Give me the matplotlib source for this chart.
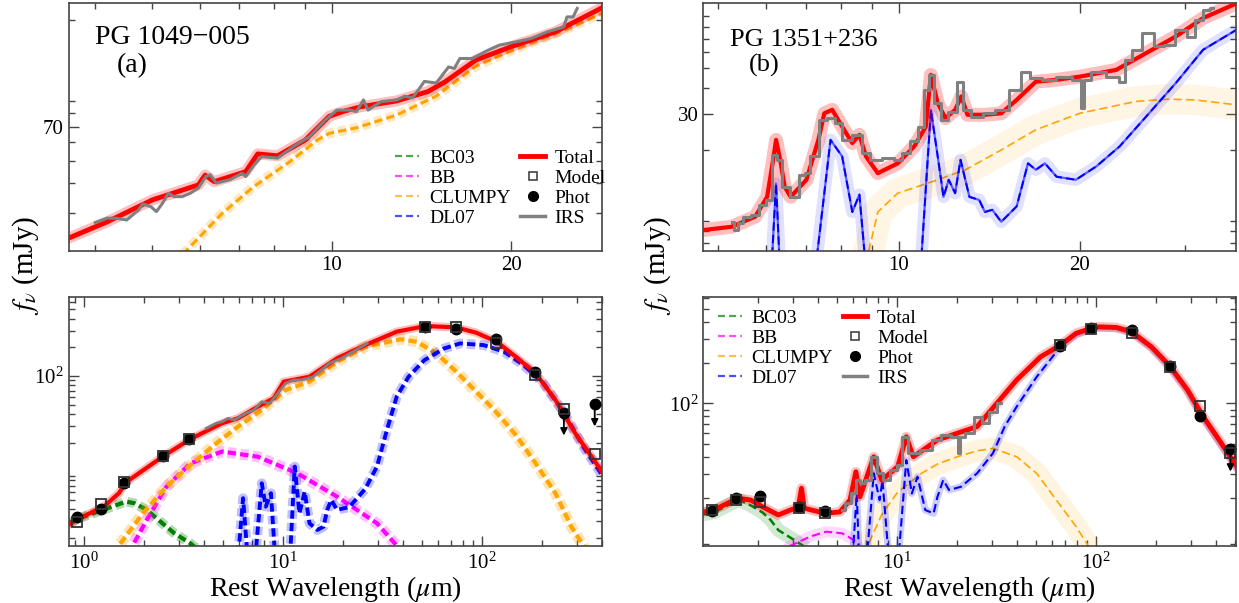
import numpy as np
import matplotlib
matplotlib.use('Agg')
import matplotlib.pyplot as plt
from matplotlib.ticker import (FixedLocator, LogLocator, NullFormatter,
                               StrMethodFormatter, LogFormatterMathtext)
from matplotlib.lines import Line2D

plt.rcParams['font.family'] = 'serif'
plt.rcParams['font.serif'] = ['Liberation Serif', 'DejaVu Serif']
plt.rcParams['mathtext.fontset'] = 'stix'
plt.rcParams['lines.scale_dashes'] = False

# ---------------- PG 1049-005 : IRS zoom ----------------
tl_total_wl = [3.6, 4.2, 5.0, 5.97, 6.13, 6.35, 7.17, 7.51, 8.11, 9.03, 9.9, 10.5,
               11.2, 12.85, 14.5, 15.5, 17.45, 20.0, 23.7, 28.5]
tl_total_f = [23.2, 27.4, 34.0, 39.4, 43.4, 40.7, 44.9, 53.5, 52.5, 61.4, 77.5, 81.6,
              85.2, 90.2, 98.9, 109, 135, 154, 178, 227]
tl_clumpy_wl = [5.4, 5.70, 6.55, 7.40, 8.49, 9.46, 9.9, 11.0, 12.85, 14.97, 17.45,
                20.0, 23.7, 28.5]
tl_clumpy_f = [18.5, 20.6, 29.8, 38.8, 49.4, 61.4, 65.5, 69.2, 78.5, 94.6, 127,
               148, 175, 214]
tl_irs_wl = [4.01, 4.20, 4.33, 4.53, 4.74, 4.82, 4.97, 5.08, 5.20, 5.32, 5.44, 5.61,
             5.79, 5.97, 6.15, 6.25, 6.40, 6.75, 7.07, 7.17, 7.40, 7.63, 8.11, 8.62,
             9.17, 9.75, 10.2, 10.7, 11.0, 11.3, 11.5, 12.1, 12.85, 13.25, 13.66, 14.3,
             14.97, 15.7, 16.05, 16.4, 17.2, 18.3, 19.1, 20.4, 21.6, 23.0, 24.5, 24.8,
             25.4, 25.8]
tl_irs_f = [27.2, 28.4, 28.4, 27.9, 30.8, 32.7, 31.8, 30.3, 32.9, 36.3, 35.1, 35.1,
            36.3, 38.2, 42.8, 43.6, 40.1, 41.5, 44.2, 42.8, 47.9, 52.1, 51.3, 57.5,
            63.4, 74.8, 82.4, 82.4, 81.2, 91.1, 82.4, 89.6, 91.1, 94.5, 92.9, 109.3,
            107.6, 126.0, 124.2, 137.0, 137.0, 148.8, 156.3, 161.5, 167.0, 178.2, 187.1,
            206.4, 206.4, 224.4]

# ---------------- PG 1351+236 : IRS zoom ----------------
tr_total_wl = [4.73, 5.26, 5.76, 6.03, 6.17, 6.24, 6.34, 6.45, 6.60, 7.01, 7.34, 7.51,
               7.74, 8.04, 8.36, 8.59, 8.81, 9.22, 9.95, 10.6, 11.08, 11.3, 11.6, 11.95,
               12.4, 12.7, 13.0, 13.9, 14.8, 15.7, 16.9, 18.3, 20.0, 23.0, 25.5, 28.9,
               32.1, 36.5]
tr_total_f = [8.13, 8.43, 9.44, 11.8, 17.9, 22.4, 17.9, 13.2, 11.8, 14.3, 22.4, 30.2,
              31.4, 26.0, 21.6, 23.7, 18.6, 15.4, 17.2, 20.8, 26.0, 46.5, 33.8, 28.6,
              31.4, 36.5, 29.7, 29.7, 30.2, 35.1, 43.1, 44.0, 45.6, 49.2, 58.3, 71.6,
              88.1, 104]
tr_dl07_wl = [6.10, 6.24, 6.36, 7.18, 7.69, 8.04, 8.36, 8.59, 8.88, 10.8, 11.3, 11.6,
              11.86, 12.1, 12.4, 12.66, 13.1, 13.6, 13.9, 14.3, 14.8, 15.7, 16.4, 16.9,
              17.5, 18.3, 19.7, 21.3, 23.3, 25.5, 28.9, 32.1, 36.5]
tr_dl07_f = [4.0, 13.7, 4.0, 4.0, 22.4, 18.6, 9.96, 12.1, 4.0, 4.0, 31.4, 18.6,
             11.8, 14.3, 12.3, 17.9, 11.8, 11.4, 9.96, 10.2, 8.92, 10.6, 17.2, 16.0,
             17.2, 14.8, 14.3, 16.6, 20.8, 28.0, 42.4, 61.7, 77.3]
tr_clumpy_wl = [8.5, 8.88, 9.22, 9.95, 10.7, 11.6, 12.9, 14.8, 16.9, 20.0, 24.8,
                28.0, 31.1, 36.5]
tr_clumpy_f = [5.0, 6.2, 9.96, 12.3, 13.2, 14.3, 16.0, 20.0, 25.1, 30.2, 34.5,
               35.4, 35.1, 33.2]
tr_irs_wl = [5.26, 5.38, 5.42, 5.59, 5.76, 5.94, 6.07, 6.21, 6.31, 6.45, 6.70, 6.91,
             7.01, 7.23, 7.46, 7.69, 7.93, 8.17, 8.55, 8.81, 9.09, 9.65, 9.95, 10.26,
             10.6, 10.9, 11.15, 11.3, 11.6, 11.86, 12.3, 12.7, 12.9, 13.5, 14.1, 14.8,
             15.7, 16.2, 16.9, 17.7, 18.8, 20.0, 20.2, 20.5, 21.3, 23.0, 23.5, 24.0,
             24.8, 25.9, 27.2, 28.0, 29.7, 30.7, 31.6, 32.6, 33.3]
tr_irs_f = [8.92, 8.13, 8.76, 9.44, 9.62, 10.8, 11.4, 18.9, 17.9, 13.2, 11.8, 15.1,
            15.4, 18.6, 28.0, 28.6, 27.0, 22.4, 23.7, 19.3, 17.9, 18.2, 17.9, 19.3,
            22.0, 26.0, 39.3, 46.5, 33.8, 28.0, 30.8, 43.1, 31.4, 29.1, 30.2, 31.4,
            39.3, 48.3, 44.8, 44.0, 45.6, 44.0, 32.0, 44.0, 48.3, 45.6, 43.1, 55.1,
            61.7, 74.4, 64.0, 65.2, 77.3, 71.6, 86.5, 96.8, 98.6]

# ---------------- PG 1049-005 : full SED ----------------
bl_phot_wl = [0.92, 1.22, 1.60, 2.51, 3.39, 51.6, 73.7, 117.9, 184.2, 257.9, 368.5]
bl_phot_f = [3.29, 3.99, 7.48, 14.5, 22.0, 329, 309, 243, 111, 40.6, 50.5]
bl_phot_uplim = [False, False, False, False, False, False, False, False, False, True, True]
bl_model_f = [2.96, 4.5, 7.66, 14.5, 22.0, 329, 324, 224, 102, 44.7, 15.2]
bl_total_wl = [0.841, 0.935, 1.26, 1.50, 1.63, 1.89, 2.52, 3.46, 4.95, 5.95, 7.48, 9.0,
               10.1, 13.6, 18.7, 25.9, 37.3, 52.2, 74.3, 93.5, 118.7, 148, 186, 234,
               294, 406]
bl_total_f = [2.73, 3.16, 4.25, 5.88, 7.66, 9.53, 14.5, 22.0, 31.9, 36.0, 47.6, 58.4,
              87.1, 98.3, 153, 211, 292, 335, 324, 285, 229, 159, 107, 56, 25.1, 9.53]
bl_irs_wl = [4.12, 4.62, 4.95, 5.30, 5.68, 6.52, 7.15, 7.83, 8.59, 9.41, 10.3, 11.3,
             12.4, 14.2, 15.6, 17.1, 19.6, 22.5, 26.5]
bl_irs_f = [28.2, 31.9, 33.2, 36.0, 34.5, 40.6, 44.0, 53.7, 51.7, 65.8, 83.7, 90.8,
            90.8, 98.3, 115.6, 135.8, 153, 180, 220]
bl_bc03_wl = [0.84, 0.948, 1.25, 1.63, 1.80, 2.07, 2.37, 2.85, 3.43, 3.9]
bl_bc03_f = [2.84, 3.21, 3.93, 4.80, 4.61, 3.93, 3.08, 2.23, 1.75, 1.4]
bl_bb_wl = [1.65, 1.76, 2.07, 2.60, 3.43, 4.95, 7.48, 11.8, 18.7, 29.7, 37.3, 42]
bl_bb_f = [1.0, 1.66, 3.08, 6.89, 12.1, 16.1, 14.2, 9.53, 5.41, 2.84, 1.66, 1.2]
bl_clumpy_wl = [1.35, 1.50, 1.98, 2.60, 3.43, 4.52, 5.95, 7.83, 10.3, 13.6, 18.7, 25.9,
                39.1, 47.0, 59.1, 74.3, 93.5, 117.5, 148, 186, 234, 281, 323, 360]
bl_clumpy_f = [1.0, 1.66, 3.62, 6.89, 11.6, 18.9, 29.4, 44.0, 71.3, 87.1, 141, 203,
               243, 229, 173, 111, 68.5, 42.2, 24.0, 12.1, 5.88, 2.62, 1.66, 1.0]
bl_dl07_wl = [5.9, 6.31, 6.7, 7.2, 7.83, 8.20, 8.71, 9.2, 10.8, 11.47, 12.1, 12.87,
              13.6, 14.9, 16.0, 16.7, 17.5, 18.7, 21.5, 25.9, 29.7, 33.3, 37.3, 42.8,
              51.4, 64.7, 77.8, 102, 129, 162, 204, 259, 323, 406]
bl_dl07_f = [1.0, 5.21, 1.0, 1.0, 7.48, 4.25, 5.88, 1.0, 1.0, 11.2, 3.62, 6.11,
             2.84, 2.42, 2.62, 3.93, 5.0, 3.93, 4.2, 6.5, 11.2, 27.1, 60.7, 98.3,
             147, 195, 220, 211, 180, 130, 83.7, 40.6, 18.1, 8.77]

# ---------------- PG 1351+236 : full SED ----------------
br_phot_wl = [1.18, 1.56, 2.06, 3.22, 4.36, 66.4, 94.8, 151.7, 237, 332, 474]
br_phot_f = [15.9, 19.8, 20.7, 17.1, 15.9, 267, 359, 349, 189, 80.5, 45.6]
br_phot_uplim = [False, False, False, False, False, False, False, False, False, False, True]
br_model_f = [16.2, 19.2, 18.7, 16.9, 15.3, 270, 353, 333, 187, 95.5, 42.6]
br_total_wl = [1.063, 1.18, 1.59, 1.85, 2.12, 2.54, 2.92, 3.20, 3.32, 3.43, 4.38, 5.18,
               5.82, 6.23, 6.53, 7.66, 8.40, 10.1, 11.16, 12.1, 16.0, 20.1, 25.3, 31.8,
               40.0, 52.7, 66.3, 79.6, 100, 126, 151, 190, 235, 288, 346, 416, 511]
br_total_f = [15.7, 16.0, 19.8, 19.2, 17.1, 14.9, 16.2, 17.0, 23.5, 16.7, 15.3, 15.7,
              19.2, 31.1, 20.3, 40.2, 27.0, 33.9, 56.6, 40.2, 53.5, 60.0, 67.2, 100,
              149, 221, 270, 330, 369, 365, 339, 262, 189, 126, 79.6, 53.5, 33.9]
br_irs_wl = [5.30, 5.69, 6.09, 6.37, 6.67, 7.15, 7.66, 8.20, 8.79, 9.64, 10.3, 11.06,
             11.6, 12.4, 13.9, 16.0, 17.5, 20.1, 20.6, 21.0, 23.1, 25.9, 27.7, 30.4, 33.3]
br_irs_f = [16.2, 18.2, 21.5, 27.0, 25.5, 27.0, 40.2, 30.3, 27.0, 32.1, 34.9, 56.6,
            42.7, 42.7, 45.1, 53.5, 58.2, 56.6, 42.7, 56.6, 60.0, 79.6, 71.1, 86.7, 100]
br_bc03_wl = [1.063, 1.22, 1.61, 1.85, 2.12, 2.32, 2.54, 3.06, 3.51]
br_bc03_f = [15.0, 15.7, 19.3, 17.5, 15.5, 13.7, 11.5, 9.7, 8.5]
br_bb_wl = [2.6, 2.92, 3.67, 4.41, 5.30, 6.09, 6.6]
br_bb_f = [7.5, 8.8, 10.3, 11.2, 10.9, 9.7, 8.0]
br_clumpy_wl = [7.0, 7.31, 8.4, 10.1, 13.3, 16.0, 20.1, 25.3, 30.4, 40.0, 50.4, 63.3,
                79.6, 91.4, 100]
br_clumpy_f = [7.5, 9.5, 15.0, 22.0, 30.3, 35.5, 40.2, 44.5, 46.4, 40.2, 30.3, 19.2,
               12.2, 8.8, 7.0]
br_dl07_wl = [5.95, 6.29, 6.5, 7.0, 7.66, 8.20, 8.47, 9.2, 10.1, 11.16, 11.9, 12.7,
              13.9, 15.3, 16.0, 17.1, 18.3, 21.0, 25.3, 30.4, 34.8, 40.0, 50.4, 66.3,
              79.6, 100, 126, 151, 190, 235, 288, 346, 416, 511]
br_dl07_f = [6.0, 21.5, 6.0, 6.0, 30.3, 19.2, 27.0, 6.0, 6.0, 38.0, 21.5, 28.6,
             16.2, 15.3, 20.3, 27.0, 22.8, 24.1, 30.3, 42.7, 67.2, 94.4, 157, 262,
             325, 362, 360, 335, 258, 186, 124, 78, 52, 33]

DASH = (6, 3)


def component(ax, wl, f, color, lw, spread, alpha, dashed_spread=True):
    # faint copy underneath stands for the spread of the fitted realisations
    if dashed_spread:
        ax.plot(wl, f, color=color, lw=spread, alpha=alpha, dashes=DASH, zorder=2)
    else:
        ax.plot(wl, f, color=color, lw=spread, alpha=alpha, solid_capstyle='butt', zorder=2)
    ax.plot(wl, f, color=color, lw=lw, dashes=DASH, zorder=2)


def total(ax, wl, f, lw, spread):
    ax.plot(wl, f, color='red', lw=spread, alpha=0.25, zorder=3)
    ax.plot(wl, f, color='red', lw=lw, zorder=3)


def points(ax, wl, phot, model, uplim):
    ax.plot(wl, model, ls='none', marker='s', ms=7, mfc='none', mec='#333333', mew=1.3, zorder=6)
    ax.plot(wl, phot, ls='none', marker='o', ms=7.5, color='black', zorder=5)
    for x, y, up in zip(wl, phot, uplim):
        if up:
            ax.annotate('', xy=(x, y), xytext=(0, -16), textcoords='offset points',
                        arrowprops=dict(arrowstyle='<|-', color='black', lw=1.3,
                                        shrinkA=0, shrinkB=0, mutation_scale=10))


def setup(ax, xlim, ylim, top):
    ax.set_xscale('log')
    ax.set_yscale('log')
    ax.set_xlim(xlim)
    ax.set_ylim(ylim)
    ax.xaxis.set_minor_locator(LogLocator(base=10, subs=np.arange(2, 10), numticks=30))
    ax.yaxis.set_minor_locator(LogLocator(base=10, subs=np.arange(2, 10), numticks=30))
    ax.xaxis.set_minor_formatter(NullFormatter())
    ax.yaxis.set_minor_formatter(NullFormatter())
    if top:
        ax.xaxis.set_major_locator(FixedLocator([10, 20]))
        ax.xaxis.set_major_formatter(StrMethodFormatter('{x:.0f}'))
        ax.yaxis.set_major_formatter(StrMethodFormatter('{x:.0f}'))
    else:
        ax.xaxis.set_major_locator(LogLocator(base=10, numticks=10))
        ax.xaxis.set_major_formatter(LogFormatterMathtext())
        ax.yaxis.set_major_locator(FixedLocator([100]))
        ax.yaxis.set_major_formatter(LogFormatterMathtext())
    ax.tick_params(which='both', direction='in', top=True, right=True,
                   color='#444444', labelsize=15, width=1.0)
    ax.tick_params(which='major', length=7)
    ax.tick_params(which='minor', length=4.5)
    if not top:
        ax.tick_params(axis='x', which='major', pad=5)
    for s in ax.spines.values():
        s.set_color('#444444')
        s.set_linewidth(1.2)


def legend(ax, anchor):
    h = [Line2D([], [], color='green', lw=1.6, dashes=(5, 3), alpha=0.7),
         Line2D([], [], color='magenta', lw=1.6, dashes=(5, 3), alpha=0.7),
         Line2D([], [], color='orange', lw=1.6, dashes=(5, 3), alpha=0.7),
         Line2D([], [], color='blue', lw=1.6, dashes=(5, 3), alpha=0.7),
         Line2D([], [], color='red', lw=3.5),
         Line2D([], [], ls='none', marker='s', ms=6, mfc='none', mec='#444444', mew=1.2),
         Line2D([], [], ls='none', marker='o', ms=7, color='black'),
         Line2D([], [], color='gray', lw=2.5)]
    labels = ['BC03', 'BB', 'CLUMPY', 'DL07', 'Total', 'Model', 'Phot', 'IRS']
    ax.legend(h, labels, ncol=2, loc='upper left', bbox_to_anchor=anchor, frameon=False,
              fontsize=14, borderpad=0, borderaxespad=0, handlelength=1.25,
              handletextpad=0.5, columnspacing=0.5, labelspacing=0.12)


fig = plt.figure(figsize=(12.39, 6.03), dpi=100)
ax_tl = fig.add_axes([0.0555, 0.5842, 0.4304, 0.4103])
ax_tr = fig.add_axes([0.5676, 0.5842, 0.4299, 0.4103])
ax_bl = fig.add_axes([0.0555, 0.0945, 0.4304, 0.4124])
ax_br = fig.add_axes([0.5676, 0.0945, 0.4299, 0.4124])

# PG 1049-005, IRS range
component(ax_tl, tl_clumpy_wl, tl_clumpy_f, 'orange', 2.2, 7, 0.25)
total(ax_tl, tl_total_wl, tl_total_f, 3.5, 8)
ax_tl.plot(tl_irs_wl, tl_irs_f, color='gray', lw=2.2, zorder=4)
setup(ax_tl, (3.62, 28.4), (20.6, 236), True)
ax_tl.yaxis.set_major_locator(FixedLocator([70]))
ax_tl.text(0.049, 0.86, 'PG 1049\u2212005', transform=ax_tl.transAxes, fontsize=20, va='center')
ax_tl.text(0.09, 0.75, '(a)', transform=ax_tl.transAxes, fontsize=20, va='center')
legend(ax_tl, (0.612, 0.41))

# PG 1351+236, IRS range
component(ax_tr, tr_clumpy_wl, tr_clumpy_f, 'orange', 1.2, 22, 0.1, dashed_spread=False)
component(ax_tr, tr_dl07_wl, tr_dl07_f, 'blue', 1.4, 9, 0.12, dashed_spread=False)
ax_tr.plot(tr_dl07_wl, tr_dl07_f, color='blue', lw=1.6, alpha=0.6, zorder=2)
total(ax_tr, tr_total_wl, tr_total_f, 3.0, 10)
ax_tr.plot(tr_irs_wl, tr_irs_f, color='gray', lw=2.2, drawstyle='steps-mid', zorder=4)
setup(ax_tr, (4.72, 36.4), (6.44, 104), True)
ax_tr.yaxis.set_major_locator(FixedLocator([30]))
ax_tr.text(0.05, 0.852, 'PG 1351+236', transform=ax_tr.transAxes, fontsize=19, va='center')
ax_tr.text(0.086, 0.748, '(b)', transform=ax_tr.transAxes, fontsize=19, va='center')

# PG 1049-005, full SED
component(ax_bl, bl_bc03_wl, bl_bc03_f, 'green', 3.0, 7, 0.3)
component(ax_bl, bl_bb_wl, bl_bb_f, 'magenta', 3.0, 8, 0.25)
component(ax_bl, bl_clumpy_wl, bl_clumpy_f, 'orange', 3.0, 8, 0.3)
component(ax_bl, bl_dl07_wl, bl_dl07_f, 'blue', 2.8, 7, 0.25)
total(ax_bl, bl_total_wl, bl_total_f, 3.0, 6)
ax_bl.plot(bl_irs_wl, bl_irs_f, color='gray', lw=2.0, zorder=4)
points(ax_bl, bl_phot_wl, bl_phot_f, bl_model_f, bl_phot_uplim)
setup(ax_bl, (0.84, 401), (1.64, 670), False)

# PG 1351+236, full SED
component(ax_br, br_bc03_wl, br_bc03_f, 'green', 1.8, 10, 0.18, dashed_spread=False)
component(ax_br, br_bb_wl, br_bb_f, 'magenta', 1.5, 8, 0.15, dashed_spread=False)
component(ax_br, br_clumpy_wl, br_clumpy_f, 'orange', 1.2, 16, 0.12, dashed_spread=False)
component(ax_br, br_dl07_wl, br_dl07_f, 'blue', 1.5, 5, 0.2, dashed_spread=False)
total(ax_br, br_total_wl, br_total_f, 3.5, 7)
ax_br.plot(br_irs_wl, br_irs_f, color='gray', lw=2.2, drawstyle='steps-mid', zorder=4)
points(ax_br, br_phot_wl, br_phot_f, br_model_f, br_phot_uplim)
setup(ax_br, (1.066, 505), (8.77, 610), False)
legend(ax_br, (0.027, 0.952))

for ax in (ax_bl, ax_br):
    ax.set_xlabel(r'Rest Wavelength ($\mu$m)', fontsize=20, labelpad=0)

fig.text(0.021, 0.56, r'$f_\nu$ (mJy)', rotation=90, fontsize=21, ha='center', va='center')
fig.text(0.531, 0.56, r'$f_\nu$ (mJy)', rotation=90, fontsize=21, ha='center', va='center')

fig.savefig('out.png', dpi=100)
